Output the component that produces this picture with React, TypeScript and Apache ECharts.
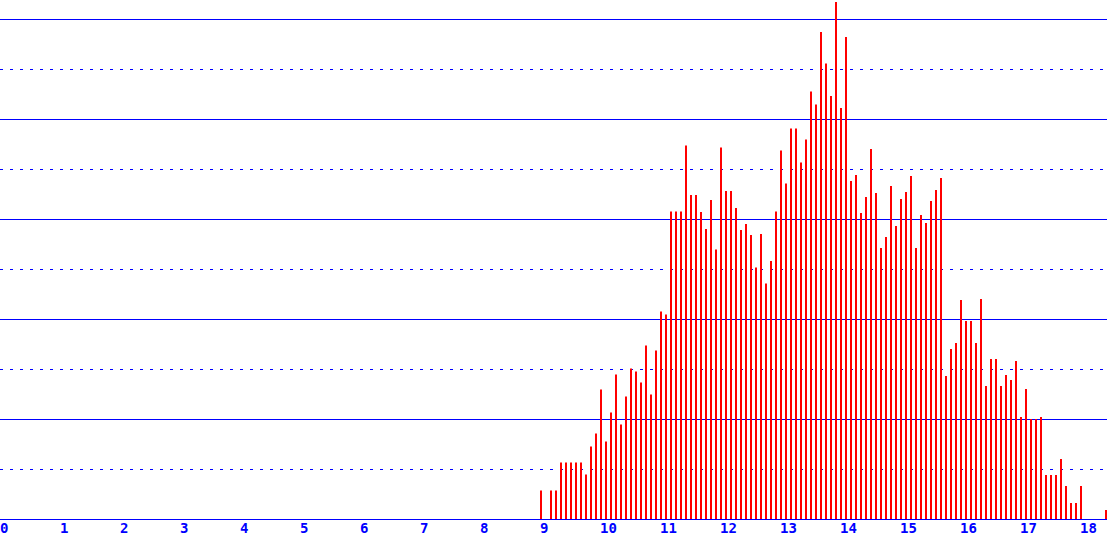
import React, { useEffect, useRef } from 'react';
import * as echarts from 'echarts';

// bins of 1/12 starting at 9.0
const BIN_START = 9;
const BIN_STEP = 1 / 12;
const X_MAX = 18.45;
const Y_MAX = 10.38;

const heights = [
  0.57, 0, 0.57, 0.57, 1.13, 1.13, 1.13, 1.13, 1.13, 0.89,
  1.45, 1.71, 2.59, 1.55, 2.13, 2.89, 1.89, 2.45, 3.01, 2.95,
  2.73, 3.47, 2.49, 3.37, 4.15, 4.09, 6.15, 6.15, 6.15, 7.47,
  6.48, 6.48, 6.14, 5.8, 6.38, 5.39, 7.43, 6.56, 6.56, 6.22,
  5.78, 5.9, 5.68, 5.03, 5.7, 4.71, 5.16, 6.15, 7.37, 6.71,
  7.81, 7.81, 7.13, 7.59, 8.55, 8.29, 9.74, 9.11, 8.46, 10.34,
  8.22, 9.64, 6.76, 6.88, 6.12, 6.44, 7.4, 6.52, 5.42, 5.64,
  6.66, 5.86, 6.4, 6.54, 6.86, 5.42, 6.08, 5.92, 6.36, 6.58,
  6.82, 2.86, 3.4, 3.52, 4.38, 3.96, 3.96, 3.52, 4.4, 2.66,
  3.2, 3.2, 2.66, 2.88, 2.78, 3.16, 2.04, 2.6, 2.0, 2.0,
  2.04, 0.88, 0.88, 0.88, 1.2, 0.66, 0.32, 0.32, 0.66, 0,
  0, 0, 0, 0.18
];

const BLUE = '#0000ff';
const RED = '#ff0000';

export default function App() {
  const chartRef = useRef<HTMLDivElement>(null);

  useEffect(() => {
    if (!chartRef.current) return;
    document.body.style.margin = '0';
    const chart = echarts.init(chartRef.current, null, { renderer: 'svg' });

    // bar sits at the left of its bin
    const data = heights.map((h, i) => [BIN_START + (i + 0.2) * BIN_STEP, h]);

    chart.setOption({
      animation: false,
      grid: { left: 0, right: 0, top: 0, bottom: 20, containLabel: false, outerBoundsMode: 'none' },
      xAxis: {
        type: 'value',
        min: 0,
        max: X_MAX,
        interval: 1,
        axisLine: { show: true, lineStyle: { color: BLUE, width: 1 } },
        axisTick: { show: false },
        splitLine: { show: false },
        axisLabel: {
          color: BLUE,
          align: 'left',
          margin: 2,
          fontFamily: 'DejaVu Sans Mono',
          fontWeight: 'bold',
          fontSize: 14,
          formatter: (v: number) => (Number.isInteger(v) ? String(v) : '')
        }
      },
      yAxis: [
        {
          type: 'value',
          min: 0,
          max: Y_MAX,
          interval: 2,
          axisLine: { show: false },
          axisTick: { show: false },
          axisLabel: { show: false },
          splitLine: {
            show: true,
            showMinLine: false,
            showMaxLine: false,
            lineStyle: { color: BLUE, width: 1, type: 'solid' }
          }
        },
        {
          type: 'value',
          min: 0,
          max: Y_MAX,
          interval: 1,
          axisLine: { show: false },
          axisTick: { show: false },
          axisLabel: { show: false },
          splitLine: {
            show: true,
            showMinLine: false,
            showMaxLine: false,
            lineStyle: { color: BLUE, width: 1, type: [3, 7], dashOffset: 0 }
          }
        }
      ],
      series: [
        {
          type: 'bar',
          yAxisIndex: 0,
          barWidth: 2,
          itemStyle: { color: RED },
          data
        }
      ]
    });

    return () => chart.dispose();
  }, []);

  return <div ref={chartRef} style={{ width: 1107, height: 539 }} />;
}
